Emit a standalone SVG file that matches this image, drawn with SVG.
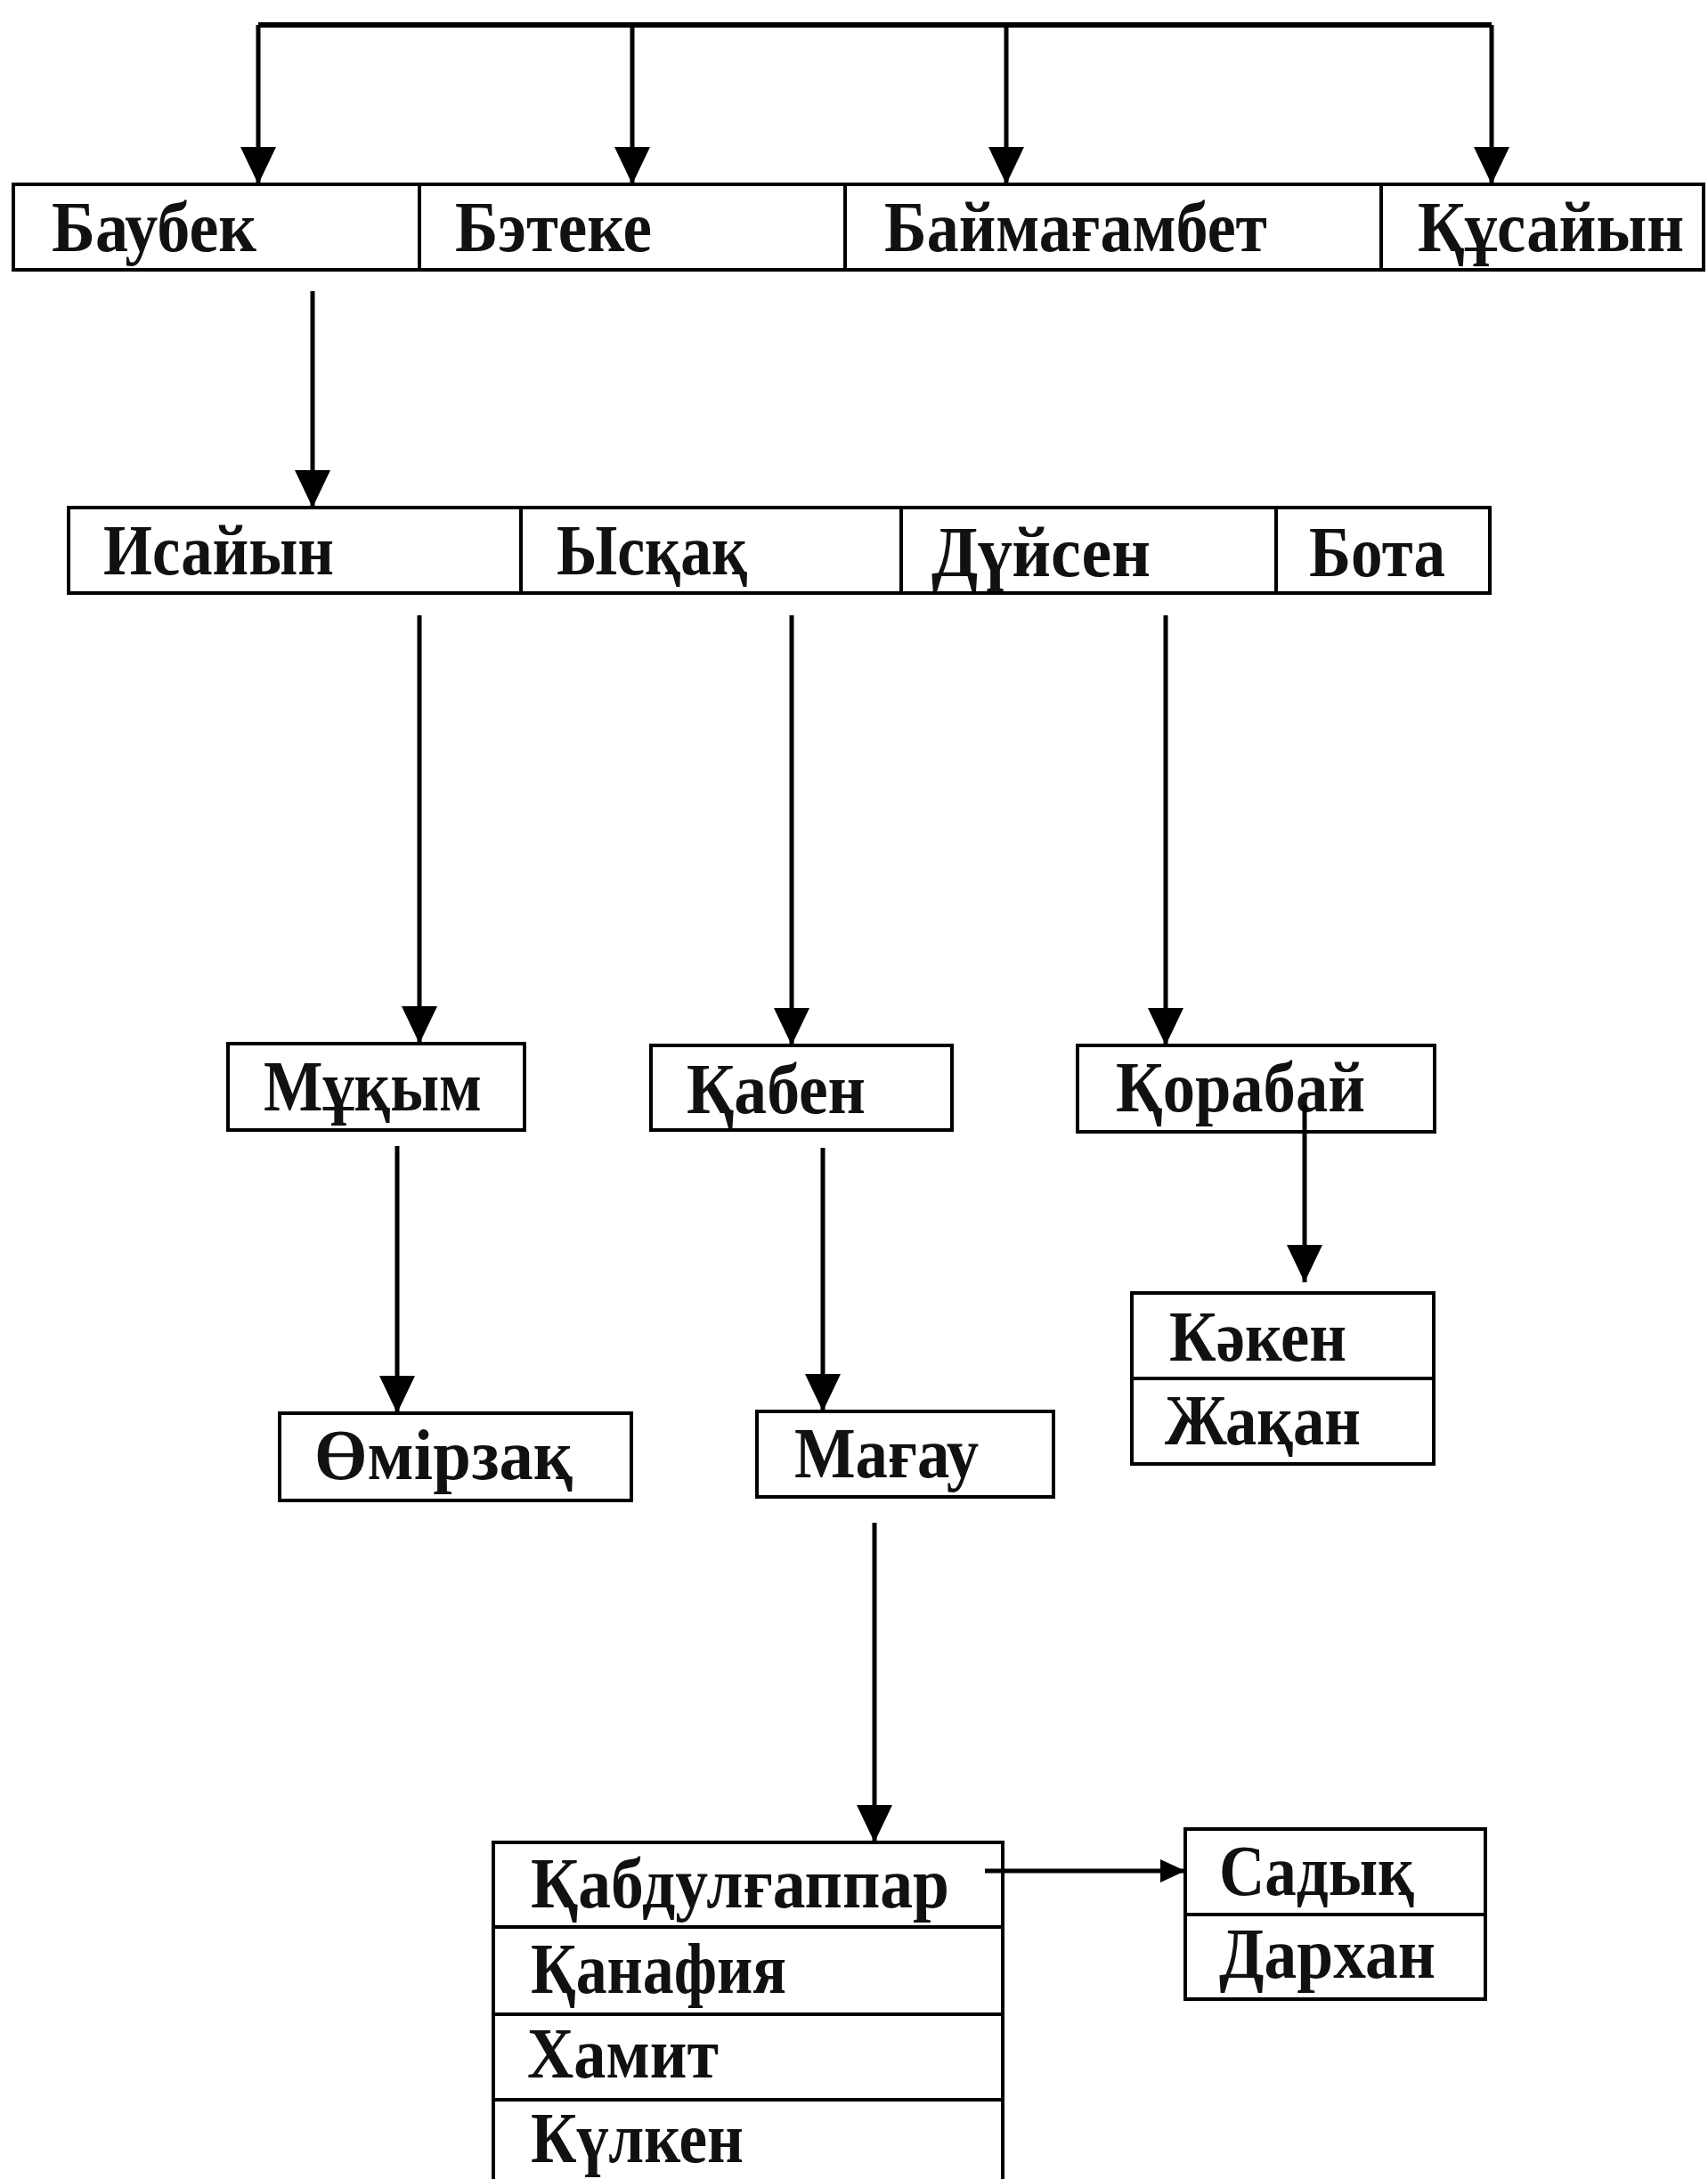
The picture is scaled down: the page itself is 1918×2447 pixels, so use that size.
<svg xmlns="http://www.w3.org/2000/svg" width="1918" height="2447" viewBox="0 0 1918 2447">
<style>
.box{fill:#fff;stroke:#000;stroke-width:4}
.lbl{font-family:"Liberation Serif","Times New Roman",serif;font-weight:bold;font-size:80px;fill:#111}
.ln{fill:none;stroke:#000;stroke-width:6}
.arr{fill:none;stroke:#000;stroke-width:5;marker-end:url(#ah)}
.arrs{fill:none;stroke:#000;stroke-width:5;marker-end:url(#ahs)}
</style>
<defs>
<marker id="ah" markerUnits="userSpaceOnUse" markerWidth="42" markerHeight="40" viewBox="0 0 42 40" refX="42" refY="20" orient="auto"><path d="M0,0 L42,20 L0,40 Z" fill="#000"/></marker>
<marker id="ahs" markerUnits="userSpaceOnUse" markerWidth="28" markerHeight="26" viewBox="0 0 28 26" refX="28" refY="13" orient="auto"><path d="M0,0 L28,13 L0,26 Z" fill="#000"/></marker>
</defs>
<rect width="1918" height="2447" fill="#fff"/>
<g id="nodes">
<g id="n-baubek"><rect class="box" x="15" y="207" width="456" height="96"/><text class="lbl" x="58" y="282" textLength="230" lengthAdjust="spacingAndGlyphs">Баубек</text></g>
<g id="n-beteke"><rect class="box" x="471" y="207" width="478" height="96"/><text class="lbl" x="511" y="282" textLength="221" lengthAdjust="spacingAndGlyphs">Бэтеке</text></g>
<g id="n-baimagambet"><rect class="box" x="949" y="207" width="602" height="96"/><text class="lbl" x="993" y="282" textLength="430" lengthAdjust="spacingAndGlyphs">Баймағамбет</text></g>
<g id="n-kusaiyn"><rect class="box" x="1551" y="207" width="362" height="96"/><text class="lbl" x="1592" y="282" textLength="299" lengthAdjust="spacingAndGlyphs">Құсайын</text></g>
<g id="n-isaiyn"><rect class="box" x="77" y="570" width="508" height="96"/><text class="lbl" x="116" y="645" textLength="259" lengthAdjust="spacingAndGlyphs">Исайын</text></g>
<g id="n-yskak"><rect class="box" x="585" y="570" width="427" height="96"/><text class="lbl" x="625" y="645" textLength="214" lengthAdjust="spacingAndGlyphs">Ысқақ</text></g>
<g id="n-duisen"><rect class="box" x="1012" y="570" width="421" height="96"/><text class="lbl" x="1046" y="647" textLength="246" lengthAdjust="spacingAndGlyphs">Дүйсен</text></g>
<g id="n-bota"><rect class="box" x="1433" y="570" width="240" height="96"/><text class="lbl" x="1470" y="647" textLength="153" lengthAdjust="spacingAndGlyphs">Бота</text></g>
<g id="n-mukym"><rect class="box" x="256" y="1172" width="333" height="97"/><text class="lbl" x="296" y="1247" textLength="245" lengthAdjust="spacingAndGlyphs">Мұқым</text></g>
<g id="n-kaben"><rect class="box" x="731" y="1174" width="338" height="95"/><text class="lbl" x="771" y="1250" textLength="201" lengthAdjust="spacingAndGlyphs">Қабен</text></g>
<g id="n-korabai"><rect class="box" x="1210" y="1174" width="401" height="97"/><text class="lbl" x="1253" y="1248" textLength="280" lengthAdjust="spacingAndGlyphs">Қорабай</text></g>
<g id="n-omirzak"><rect class="box" x="314" y="1587" width="395" height="98"/><text class="lbl" x="353" y="1661" textLength="290" lengthAdjust="spacingAndGlyphs">Өмірзақ</text></g>
<g id="n-magau"><rect class="box" x="850" y="1585" width="333" height="96"/><text class="lbl" x="892" y="1659" textLength="207" lengthAdjust="spacingAndGlyphs">Мағау</text></g>
<g id="n-kaken"><rect class="box" x="1271" y="1452" width="339" height="96"/><text class="lbl" x="1313" y="1528" textLength="199" lengthAdjust="spacingAndGlyphs">Кәкен</text></g>
<g id="n-zhakan"><rect class="box" x="1271" y="1548" width="339" height="96"/><text class="lbl" x="1308" y="1622" textLength="220" lengthAdjust="spacingAndGlyphs">Жақан</text></g>
<g id="n-kabdulgappar"><rect class="box" x="554" y="2069" width="572" height="95"/><text class="lbl" x="596" y="2142" textLength="470" lengthAdjust="spacingAndGlyphs">Қабдулғаппар</text></g>
<g id="n-kanafiya"><rect class="box" x="554" y="2164" width="572" height="98"/><text class="lbl" x="596" y="2238" textLength="287" lengthAdjust="spacingAndGlyphs">Қанафия</text></g>
<g id="n-hamit"><rect class="box" x="554" y="2262" width="572" height="96"/><text class="lbl" x="592" y="2333" textLength="215" lengthAdjust="spacingAndGlyphs">Хамит</text></g>
<g id="n-kulken"><rect class="box" x="554" y="2358" width="572" height="110"/><text class="lbl" x="596" y="2428" textLength="239" lengthAdjust="spacingAndGlyphs">Күлкен</text></g>
<g id="n-sadyk"><rect class="box" x="1331" y="2054" width="337" height="96"/><text class="lbl" x="1369" y="2128" textLength="219" lengthAdjust="spacingAndGlyphs">Садық</text></g>
<g id="n-darhan"><rect class="box" x="1331" y="2150" width="337" height="95"/><text class="lbl" x="1369" y="2221" textLength="243" lengthAdjust="spacingAndGlyphs">Дархан</text></g>
</g>
<g id="connectors">
<path class="ln" d="M290,28 H1675"/>
<path class="arr" d="M290,28 V207"/>
<path class="arr" d="M710,28 V207"/>
<path class="arr" d="M1130,28 V207"/>
<path class="arr" d="M1675,28 V207"/>
<path class="arr" d="M351,327 V570"/>
<path class="arr" d="M471,691 V1172"/>
<path class="arr" d="M889,691 V1174"/>
<path class="arr" d="M1309,691 V1174"/>
<path class="arr" d="M446,1287 V1587"/>
<path class="arr" d="M924,1289 V1585"/>
<path class="arr" d="M1465,1241 V1440"/>
<path class="arr" d="M982,1710 V2069"/>
<path class="arrs" d="M1106,2101 H1331"/>
</g>
</svg>
